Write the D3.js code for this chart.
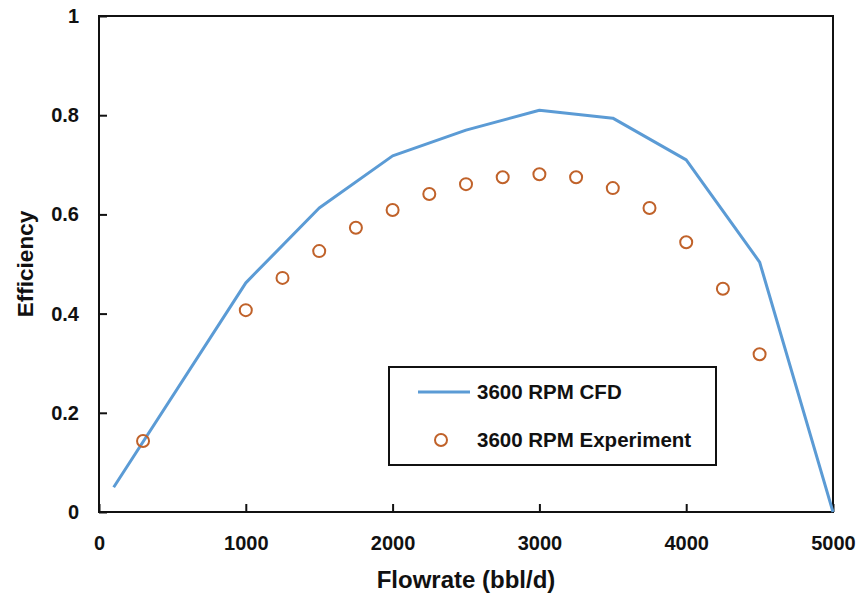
<!DOCTYPE html>
<html>
<head>
<meta charset="utf-8">
<script src="https://cdn.jsdelivr.net/npm/d3@7"></script>
<style>
  body { margin: 0; background: #fff; }
  svg text { font-family: 'Liberation Sans', Arial, sans-serif; font-weight: bold; fill: #111; }
</style>
</head>
<body>
<div id="chart"></div>
<script>
// CFD curve
var cfdFlow = [100, 1000, 1500, 2000, 2500, 3000, 3500, 4000, 4500, 5000];
var cfdEff = [0.05, 0.462, 0.613, 0.718, 0.770, 0.810, 0.794, 0.710, 0.504, 0.0];

// experiment points
var expFlow = [300, 1000, 1250, 1500, 1750, 2000, 2250, 2500, 2750, 3000, 3250, 3500, 3750, 4000, 4250, 4500];
var expEff = [0.143, 0.407, 0.472, 0.526, 0.573, 0.609, 0.641, 0.661, 0.675, 0.681, 0.675, 0.653, 0.613, 0.544, 0.450, 0.318];

var xTicks = [0, 1000, 2000, 3000, 4000, 5000];
var yTicks = [0, 0.2, 0.4, 0.6, 0.8, 1];
var seriesNames = ['3600 RPM CFD', '3600 RPM Experiment'];

var w = 862, h = 600;
var margin = { top: 16, right: 29, bottom: 88, left: 99 };
var iw = w - margin.left - margin.right;
var ih = h - margin.top - margin.bottom;

var blue = '#5b9bd5';
var brown = '#c0622a';

var svg = d3.select('#chart').append('svg')
  .attr('width', w)
  .attr('height', h);

var g = svg.append('g')
  .attr('transform', 'translate(' + margin.left + ',' + margin.top + ')');

var x = d3.scaleLinear().domain([0, 5000]).range([0, iw]);
var y = d3.scaleLinear().domain([0, 1]).range([ih, 0]);

// axes - ticks point inward
var xAxis = d3.axisBottom(x).tickValues(xTicks).tickSizeInner(-8).tickSizeOuter(0).tickPadding(20)
  .tickFormat(function(d) { return d; });
var yAxis = d3.axisLeft(y).tickValues(yTicks).tickSizeInner(-8).tickSizeOuter(0).tickPadding(20)
  .tickFormat(function(d) { return d; });

var gx = g.append('g')
  .attr('transform', 'translate(0,' + ih + ')')
  .call(xAxis);
var gy = g.append('g').call(yAxis);

[gx, gy].forEach(function(a) {
  a.select('.domain').remove();
  a.selectAll('.tick line').attr('stroke', '#111').attr('stroke-width', 2);
  a.selectAll('.tick text')
    .style('font-size', '20px')
    .style('font-family', "'Liberation Sans', Arial, sans-serif")
    .style('font-weight', 'bold')
    .attr('fill', '#111');
});
gx.selectAll('.tick text').attr('dy', '0.9em');

// frame
g.append('rect')
  .attr('x', 0).attr('y', 0)
  .attr('width', iw).attr('height', ih)
  .attr('fill', 'none')
  .attr('stroke', '#111')
  .attr('stroke-width', 2);

// CFD line
var cfd = cfdFlow.map(function(f, i) { return [f, cfdEff[i]]; });
var line = d3.line()
  .x(function(d) { return x(d[0]); })
  .y(function(d) { return y(d[1]); });

g.append('path')
  .datum(cfd)
  .attr('d', line)
  .attr('fill', 'none')
  .attr('stroke', blue)
  .attr('stroke-width', 3)
  .attr('stroke-linejoin', 'round');

// experiment markers
var exp = expFlow.map(function(f, i) { return [f, expEff[i]]; });
g.selectAll('circle.exp')
  .data(exp)
  .enter()
  .append('circle')
  .attr('class', 'exp')
  .attr('cx', function(d) { return x(d[0]); })
  .attr('cy', function(d) { return y(d[1]); })
  .attr('r', 6)
  .attr('fill', 'none')
  .attr('stroke', brown)
  .attr('stroke-width', 2);

// axis titles
svg.append('text')
  .attr('x', margin.left + iw / 2)
  .attr('y', 588)
  .attr('text-anchor', 'middle')
  .style('font-size', '24px')
  .text('Flowrate (bbl/d)');

svg.append('text')
  .attr('transform', 'translate(33,' + (margin.top + ih / 2) + ') rotate(-90)')
  .attr('text-anchor', 'middle')
  .style('font-size', '22.5px')
  .text('Efficiency');

// legend
var lg = svg.append('g').attr('transform', 'translate(389,367)');
lg.append('rect')
  .attr('width', 327).attr('height', 98)
  .attr('fill', '#fff')
  .attr('stroke', '#111')
  .attr('stroke-width', 2);
lg.append('line')
  .attr('x1', 29).attr('x2', 81)
  .attr('y1', 25).attr('y2', 25)
  .attr('stroke', blue).attr('stroke-width', 3);
lg.append('circle')
  .attr('cx', 52).attr('cy', 73).attr('r', 6)
  .attr('fill', 'none').attr('stroke', brown).attr('stroke-width', 2);
lg.selectAll('text.leg')
  .data(seriesNames)
  .enter()
  .append('text')
  .attr('class', 'leg')
  .attr('x', 88)
  .attr('y', function(d, i) { return 25 + i * 48; })
  .attr('dy', '0.35em')
  .style('font-size', '20.5px')
  .text(function(d) { return d; });
</script>
</body>
</html>
